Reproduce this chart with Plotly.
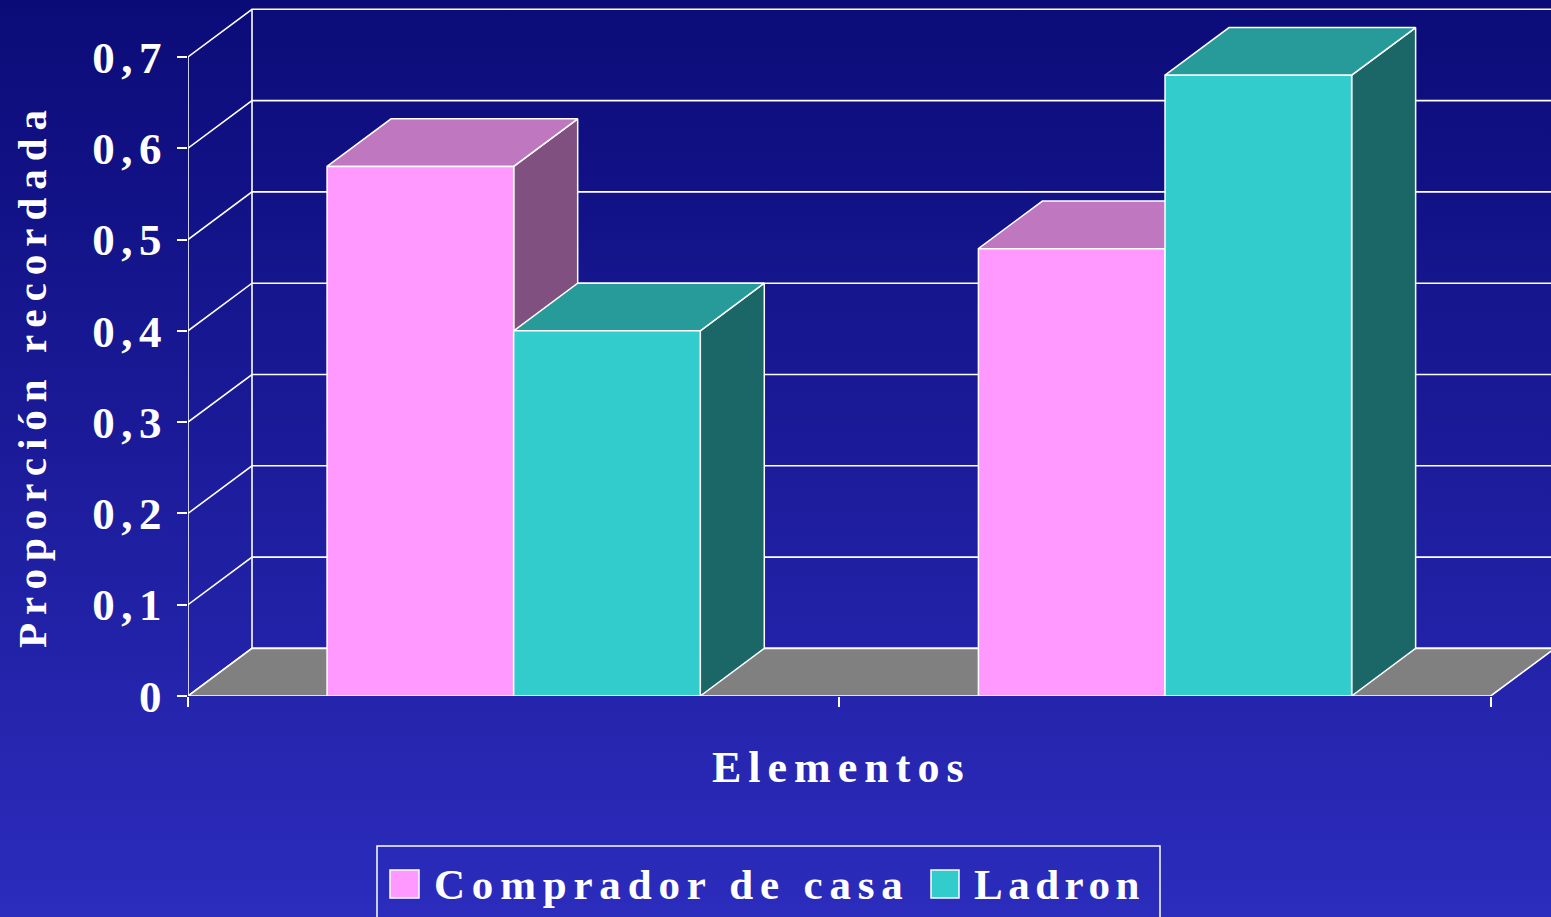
import base64
import plotly.graph_objects as go

# ---------------- data ----------------
categories = ["1", "2"]                      # two unlabeled groups on the x axis
series_names = ["Comprador de casa", "Ladron"]
comprador = [0.58, 0.49]
ladron = [0.40, 0.68]
y_tick_values = [0, 0.1, 0.2, 0.3, 0.4, 0.5, 0.6, 0.7]
y_tick_labels = ["0", "0,1", "0,2", "0,3", "0,4", "0,5", "0,6", "0,7"]
y_title = "Proporción recordada"
x_title = "Elementos"

# ---------------- styling / geometry ----------------
W, H = 1551, 917
PLOT_L, PLOT_B = 188, 696            # pixel position of front origin
PX_X = 651.35                        # pixels per category unit
PX_Y = 913.0                         # pixels per value unit
DX = 64.0 / PX_X                     # depth offset in x units
DY = 47.6 / PX_Y                     # depth offset in y units
BAR_W = 0.2865
X_MAX = (W - PLOT_L) / PX_X
Y_MAX = PLOT_B / PX_Y

pink = dict(front="#FF99FF", top="#BF77BF", side="#7F5080")
teal = dict(front="#33CCCC", top="#279B99", side="#1B6666")
series_styles = [pink, teal]
series_values = [comprador, ladron]
FONT = "Liberation Serif"


def sp(text, ls):
    return f'<span style="letter-spacing:{ls}px">{text}</span>'


def px2x(px):
    return (px - PLOT_L) / (W - PLOT_L)


def py2y(py):
    return (PLOT_B - py) / PLOT_B


fig = go.Figure()


def poly(xs, ys, fill, lw=1.5, lc="white"):
    fig.add_trace(go.Scatter(x=xs, y=ys, mode="lines", fill="toself",
                             fillcolor=fill, line=dict(color=lc, width=lw),
                             hoverinfo="skip", showlegend=False))


# grid lines (back wall + diagonals)
gx, gy = [], []
for v in y_tick_values:
    gx += [0, DX, len(categories) + DX + 0.2, None]
    gy += [v, v + DY, v + DY, None]
gx += [DX, DX, None, 0, 0, None]
gy += [DY, y_tick_values[-1] + DY, None, 0, y_tick_values[-1], None]
fig.add_trace(go.Scatter(x=gx, y=gy, mode="lines", line=dict(color="white", width=1.6),
                         hoverinfo="skip", showlegend=False))

# floor
n = len(categories)
poly([0, n, n + DX, DX, 0], [0, 0, DY, DY, 0], "#808080", lw=1.6)

# bars
for ci in range(n):
    center = ci + 0.5
    for si, vals in enumerate(series_values):
        v = vals[ci]
        st = series_styles[si]
        x0 = center - BAR_W + si * BAR_W
        x1 = x0 + BAR_W
        poly([x1, x1 + DX, x1 + DX, x1, x1], [0, DY, v + DY, v, 0], st["side"])
        poly([x0, x1, x1 + DX, x0 + DX, x0], [v, v, v + DY, v + DY, v], st["top"])
        poly([x0, x1, x1, x0, x0], [0, 0, v, v, 0], st["front"])

# background gradient
svg = ('<svg xmlns="http://www.w3.org/2000/svg" width="10" height="100" preserveAspectRatio="none">'
       '<defs><linearGradient id="g" x1="0" y1="0" x2="0" y2="1">'
       '<stop offset="0" stop-color="#0B0B78"/><stop offset="1" stop-color="#2C2CBD"/>'
       '</linearGradient></defs><rect width="10" height="100" fill="url(#g)"/></svg>')
bg_src = "data:image/svg+xml;base64," + base64.b64encode(svg.encode()).decode()

annotations = [
    dict(text=sp(y_title, 8.0), x=px2x(32), y=py2y(375), xref="paper", yref="paper",
         textangle=-90, showarrow=False, xanchor="center", yanchor="middle",
         font=dict(family=FONT, size=41, color="white", weight="bold")),
    dict(text=sp(x_title, 7), x=px2x(841), y=py2y(767), xref="paper", yref="paper",
         showarrow=False, xanchor="center", yanchor="middle",
         font=dict(family=FONT, size=44, color="white", weight="bold")),
    dict(text=sp(series_names[0], 6.8), x=px2x(432), y=py2y(884), xref="paper", yref="paper",
         showarrow=False, xanchor="left", yanchor="middle",
         font=dict(family=FONT, size=43, color="white", weight="bold")),
    dict(text=sp(series_names[1], 5.5), x=px2x(972), y=py2y(884), xref="paper", yref="paper",
         showarrow=False, xanchor="left", yanchor="middle",
         font=dict(family=FONT, size=43, color="white", weight="bold")),
]

shapes = [
    dict(type="rect", xref="paper", yref="paper", x0=px2x(377), x1=px2x(1160),
         y0=py2y(930), y1=py2y(846), line=dict(color="white", width=1.5)),
    dict(type="rect", xref="paper", yref="paper", x0=px2x(390), x1=px2x(419),
         y0=py2y(898), y1=py2y(870), fillcolor=pink["front"], line=dict(color="white", width=1.5)),
    dict(type="rect", xref="paper", yref="paper", x0=px2x(931), x1=px2x(959),
         y0=py2y(898), y1=py2y(870), fillcolor=teal["front"], line=dict(color="white", width=1.5)),
]

fig.update_layout(
    width=W, height=H,
    margin=dict(l=PLOT_L, r=0, t=0, b=H - PLOT_B, pad=0),
    paper_bgcolor="#1C1C9C", plot_bgcolor="rgba(0,0,0,0)",
    showlegend=False,
    images=[dict(source=bg_src, xref="paper", yref="paper",
                 x=-PLOT_L / (W - PLOT_L), y=1.0, sizex=W / (W - PLOT_L), sizey=H / PLOT_B,
                 xanchor="left", yanchor="top", sizing="stretch", layer="below")],
    annotations=annotations, shapes=shapes,
    xaxis=dict(range=[0, X_MAX], showgrid=False, zeroline=False, showline=False,
               tickmode="array", tickvals=[0, 1, 2], ticktext=["", "", ""],
               showticklabels=False, ticks="outside", ticklen=10, tickwidth=2,
               tickcolor="white", fixedrange=True),
    yaxis=dict(range=[0, Y_MAX], showgrid=False, zeroline=False, showline=False,
               tickmode="array", tickvals=y_tick_values,
               ticktext=[sp(t, 6.5) for t in y_tick_labels],
               ticks="outside", ticklen=10, tickwidth=2, tickcolor="white",
               tickfont=dict(family=FONT, size=45, color="white", weight="bold"),
               fixedrange=True),
)

fig.write_html(
    "out.html",
    config={"displayModeBar": False},
    post_script="document.body.style.margin='0';document.body.style.overflow='hidden';",
)
